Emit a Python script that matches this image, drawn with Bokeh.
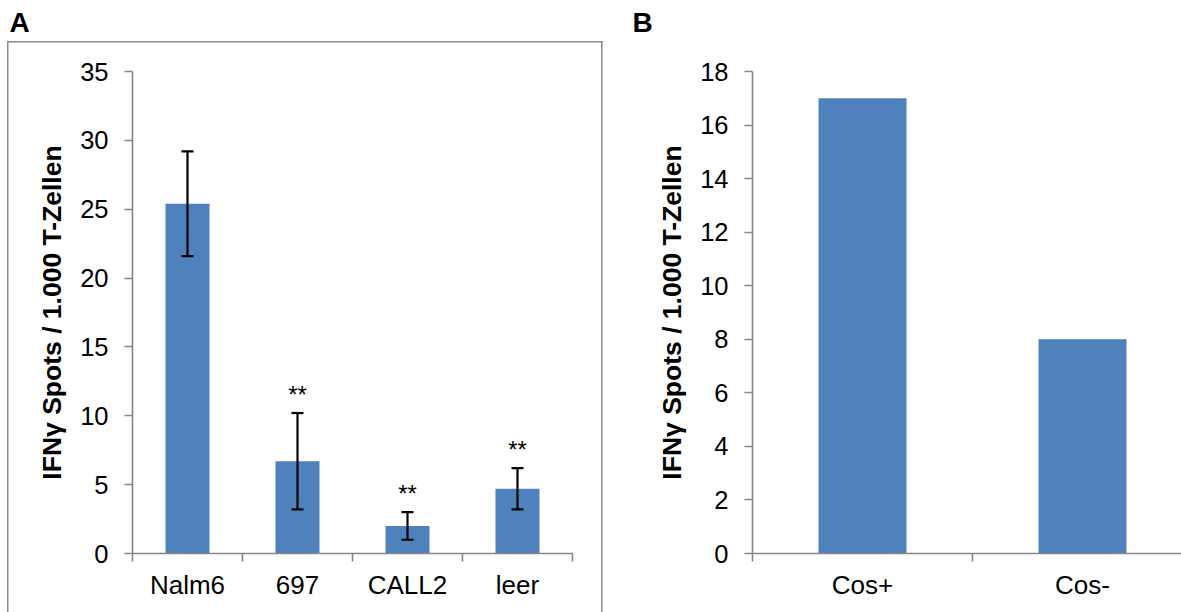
from bokeh.plotting import figure
from bokeh.models import Range1d, FixedTicker, Whisker, TeeHead, ColumnDataSource, Title
from bokeh.layouts import row
from bokeh.embed import file_html
from bokeh.resources import INLINE
from bokeh.core.properties import value

# ---------------- data ----------------
cats_a = ["Nalm6", "697", "CALL2", "leer"]
vals_a = [25.4, 6.7, 2.0, 4.7]
err_a = [3.8, 3.5, 1.0, 1.5]
sig_a = ["", "**", "**", "**"]
yticks_a = [0, 5, 10, 15, 20, 25, 30, 35]

cats_b = ["Cos+", "Cos-"]
vals_b = [17, 8]
yticks_b = [0, 2, 4, 6, 8, 10, 12, 14, 16, 18]

ylabel = "IFNγ Spots / 1.000 T-Zellen"
panel_a, panel_b = "A", "B"

BLUE = "#4F81BD"
AX = "#868686"
BOX = "#8c8c8c"
FONT = "Liberation Sans"
W, H = 1181, 612


def style(p, yticks, xs, cats, letter, letter_offset):
    p.outline_line_color = None
    p.xgrid.visible = False
    p.ygrid.visible = False
    p.background_fill_color = "white"
    xa, ya = p.xaxis[0], p.yaxis[0]
    for ax in (xa, ya):
        ax.axis_line_color = AX
        ax.axis_line_width = 1.6
        ax.major_tick_line_color = AX
        ax.major_tick_line_width = 1.6
        ax.minor_tick_line_color = AX
        ax.minor_tick_line_width = 1.6
        ax.major_label_text_font = FONT
        ax.major_label_text_color = "black"
    ya.ticker = FixedTicker(ticks=yticks, minor_ticks=[])
    ya.major_tick_out = 8
    ya.major_tick_in = 0
    ya.major_label_standoff = 16
    ya.major_label_text_font_size = "25.5px"
    ya.axis_label = ylabel
    ya.axis_label_text_font = FONT
    ya.axis_label_text_font_style = "bold"
    ya.axis_label_text_font_size = "26.5px"
    ya.axis_label_text_color = "black"
    ya.axis_label_standoff = 10
    xa.ticker = FixedTicker(ticks=xs, minor_ticks=list(range(len(cats) + 1)))
    xa.major_label_overrides = {x: c for x, c in zip(xs, cats)}
    xa.major_tick_out = 0
    xa.major_tick_in = 0
    xa.minor_tick_out = 8
    xa.minor_tick_in = 0
    xa.major_label_standoff = 8
    xa.major_label_text_font_size = "26px"
    # invisible spacer between the frame and the panel letter
    p.add_layout(Title(text=" ", text_font_size="2px", standoff=30), "above")
    # panel letter
    p.title.text = letter
    p.title.align = "left"
    p.title.offset = letter_offset
    p.title.text_font = FONT
    p.title.text_font_style = "bold"
    p.title.text_font_size = "28px"
    p.title.text_color = "black"
    p.title.standoff = 0


# ---------------- panel A ----------------
xs_a = [i + 0.5 for i in range(len(cats_a))]
src_a = ColumnDataSource(dict(
    x=xs_a, top=vals_a,
    upper=[v + e for v, e in zip(vals_a, err_a)],
    lower=[v - e for v, e in zip(vals_a, err_a)],
    sig=sig_a))

pa = figure(width=603, height=H, x_range=Range1d(0, len(cats_a)), y_range=Range1d(0, 35),
            output_backend="svg", toolbar_location=None,
            min_border_left=132, min_border_right=31, min_border_top=71, min_border_bottom=59)
style(pa, yticks_a, xs_a, cats_a, panel_a, 9 - 132)
pa.vbar(x="x", top="top", width=0.4, source=src_a, fill_color=BLUE, line_color=None)
wh = Whisker(base="x", upper="upper", lower="lower", source=src_a, line_color="black",
             line_width=2.2, level="annotation",
             upper_head=TeeHead(size=12, line_color="black", line_width=2.2),
             lower_head=TeeHead(size=12, line_color="black", line_width=2.2))
pa.add_layout(wh)
pa.text(x="x", y="upper", text="sig", source=src_a, text_align="center",
        text_baseline="alphabetic", y_offset=-19, text_font=value(FONT),
        text_font_size="24px", text_color="black")

# grey outer frame of panel A, drawn behind the (transparent) canvas border
pa.border_fill_color = None
g = "linear-gradient(%s, %s)" % (BOX, BOX)
pa.styles = {
    "background-color": "white",
    "background-image": ", ".join([g, g, g]),
    "background-size": "596px 1.5px, 1.5px 620px, 1.5px 620px",
    "background-position": "7px 41px, 7px 41px, 601px 41px",
    "background-repeat": "no-repeat",
}

# ---------------- panel B ----------------
xs_b = [i + 0.5 for i in range(len(cats_b))]
src_b = ColumnDataSource(dict(x=xs_b, top=vals_b))
pb = figure(width=W - 603, height=H, x_range=Range1d(0, 1.95), y_range=Range1d(0, 18),
            output_backend="svg", toolbar_location=None,
            min_border_left=149, min_border_right=0, min_border_top=71, min_border_bottom=59)
style(pb, yticks_b, xs_b, cats_b, panel_b, 632 - 752)
pb.border_fill_color = "white"
pb.vbar(x="x", top="top", width=0.4, source=src_b, fill_color=BLUE, line_color=None)

layout = row(pa, pb, spacing=0)
open("out.html", "w").write(file_html(layout, INLINE))
